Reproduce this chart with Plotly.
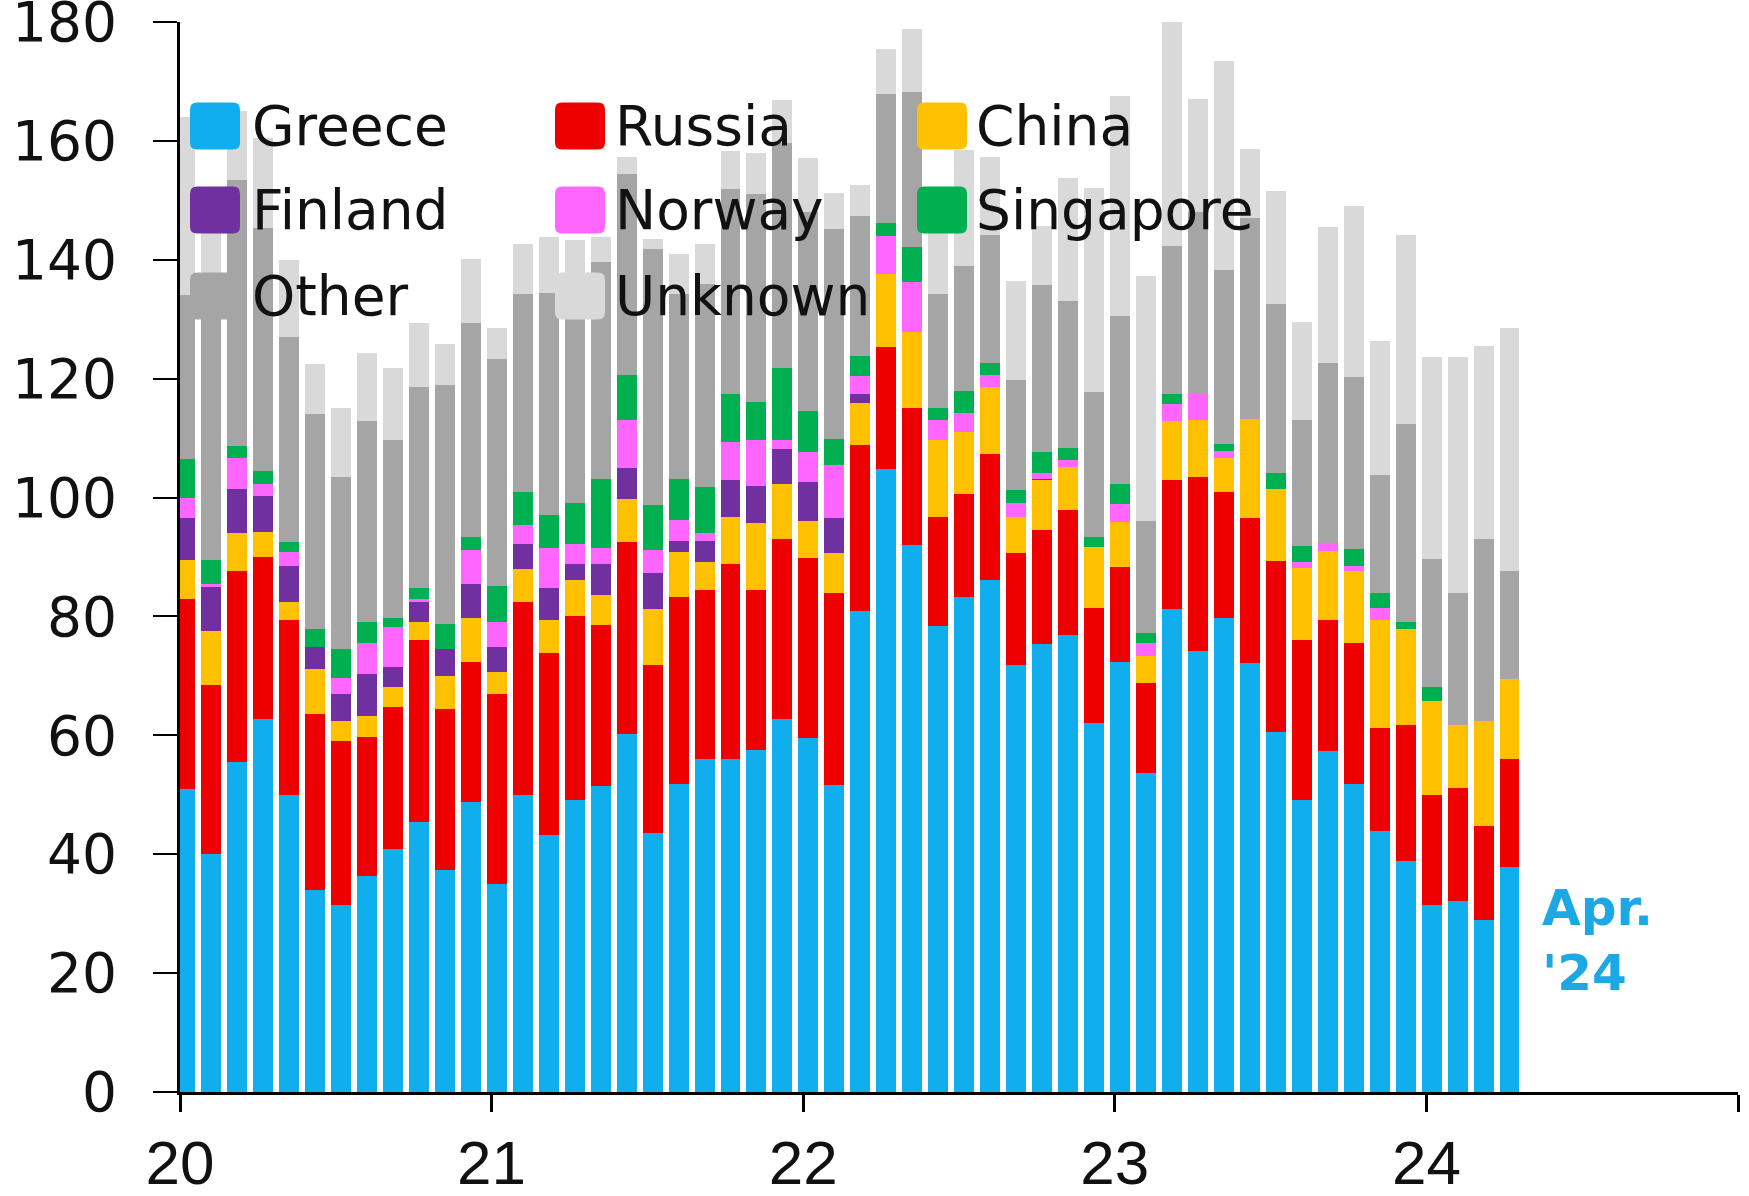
import plotly.graph_objects as go

# ---- data (monthly, Jan 2020 .. Apr 2024) ----
years = [2020] * 12 + [2021] * 12 + [2022] * 12 + [2023] * 12 + [2024] * 4
month_no = list(range(1, 13)) * 4 + [1, 2, 3, 4]

greece = [51.0, 40.0, 55.5, 62.7, 50.0, 33.9, 31.5, 36.4, 40.9, 45.5, 37.3, 48.8,
          35.0, 50.0, 43.3, 49.1, 51.5, 60.3, 43.6, 51.8, 56.0, 56.0, 57.6, 62.8,
          59.5, 51.6, 81.0, 104.8, 92.0, 78.4, 83.3, 86.2, 71.8, 75.4, 76.8, 62.1,
          72.4, 53.6, 81.2, 74.2, 79.7, 72.1, 60.6, 49.1, 57.3, 51.8, 43.9, 38.8,
          31.4, 32.2, 29.0, 37.8]
russia = [32.0, 28.5, 32.1, 27.3, 29.4, 29.7, 27.6, 23.3, 23.9, 30.5, 27.2, 23.6,
          32.0, 32.4, 30.6, 30.9, 27.0, 32.2, 28.2, 31.5, 28.5, 32.9, 26.9, 30.2,
          30.4, 32.3, 27.8, 20.6, 23.1, 18.4, 17.3, 21.1, 18.9, 19.2, 21.1, 19.4,
          16.0, 15.2, 21.7, 29.3, 21.2, 24.4, 28.8, 27.0, 22.1, 23.7, 17.3, 23.0,
          18.6, 18.9, 15.8, 18.3]
china = [6.5, 9.0, 6.4, 4.2, 3.0, 7.6, 3.3, 3.6, 3.4, 3.1, 5.5, 7.3,
         3.6, 5.5, 5.5, 6.1, 5.1, 7.2, 9.4, 7.6, 4.6, 7.9, 11.2, 9.3,
         6.1, 6.7, 7.1, 12.2, 12.8, 12.8, 10.4, 11.3, 6.1, 8.4, 7.3, 10.1,
         7.5, 4.5, 9.9, 9.5, 5.8, 16.7, 12.1, 12.1, 11.6, 12.1, 18.2, 16.1,
         15.7, 10.7, 17.6, 13.4]
finland = [7.0, 7.5, 7.5, 6.1, 6.1, 3.6, 4.6, 7.0, 3.3, 3.3, 4.5, 5.8,
           4.2, 4.3, 5.4, 2.7, 5.2, 5.2, 6.1, 1.8, 3.6, 6.1, 6.3, 5.8,
           6.6, 5.9, 1.5, 0, 0, 0, 0, 0, 0, 0.2, 0, 0,
           0, 0, 0, 0, 0, 0, 0, 0, 0, 0, 0, 0,
           0, 0, 0, 0]
norway = [3.5, 0.5, 5.2, 2.0, 2.4, 0, 2.7, 5.2, 6.7, 0.6, 0, 5.7,
          4.2, 3.2, 6.7, 3.4, 2.7, 8.1, 3.9, 3.5, 1.3, 6.5, 7.6, 1.5,
          5.0, 9.0, 3.0, 6.4, 8.4, 3.4, 3.2, 2.0, 2.3, 0.9, 1.2, 0,
          3.0, 2.2, 2.9, 4.4, 1.1, 0, 0, 0.9, 1.3, 0.9, 2.1, 0,
          0, 0, 0, 0]
singapore = [6.5, 4.0, 2.0, 2.1, 1.6, 3.1, 4.8, 3.6, 1.5, 1.8, 4.3, 2.1,
             6.2, 5.5, 5.6, 6.9, 11.7, 7.6, 7.6, 7.0, 7.7, 8.0, 6.4, 12.2,
             6.9, 4.3, 3.4, 2.2, 5.8, 2.1, 3.8, 2.0, 2.2, 3.5, 2.0, 1.7,
             3.3, 1.7, 1.7, 0, 1.2, 0, 2.6, 2.7, 0, 2.8, 2.4, 1.2,
             2.4, 0, 0, 0]
other = [27.5, 43.5, 44.8, 40.9, 34.5, 36.1, 29.0, 33.7, 29.9, 33.8, 40.1, 36.1,
         38.1, 33.3, 37.3, 32.9, 36.5, 33.9, 43.0, 31.0, 34.3, 34.5, 35.0, 37.9,
         33.5, 35.4, 23.6, 21.7, 26.2, 19.1, 20.9, 21.5, 18.5, 28.2, 24.7, 24.4,
         28.3, 18.8, 24.9, 30.6, 29.3, 33.8, 28.5, 21.2, 30.3, 29.0, 19.9, 33.2,
         21.6, 22.2, 30.7, 18.1]
unknown = [30.0, 15.0, 11.5, 15.2, 13.0, 8.4, 11.6, 11.6, 12.2, 10.8, 7.0, 10.7,
           5.2, 8.5, 9.4, 11.3, 4.1, 2.8, 1.7, 6.7, 6.6, 6.4, 7.0, 7.2,
           9.1, 6.1, 5.2, 7.5, 10.6, 10.3, 19.6, 13.2, 16.6, 9.8, 20.6, 34.3,
           37.1, 41.2, 37.7, 19.0, 35.1, 11.7, 19.0, 16.6, 22.9, 28.7, 22.6, 31.9,
           34.0, 39.7, 32.4, 41.0]

series_names = ["Greece", "Russia", "China", "Finland", "Norway", "Singapore", "Other", "Unknown"]
series_values = [greece, russia, china, finland, norway, singapore, other, unknown]
series_colors = ["#10AEEC", "#EE0000", "#FFC000", "#7030A0", "#FF66FF", "#00B050", "#A5A5A5", "#D9D9D9"]

tick_vals = [2020, 2021, 2022, 2023, 2024, 2025]
tick_text = ["20", "21", "22", "23", "24", ""]

# ---- geometry ----
W, H = 1749, 1196
ML, MR, MT, MB = 180, 11, 22, 104
PW, PH = W - ML - MR, H - MT - MB

x_pos = [y + (m - 1 + 0.2) / 12 for y, m in zip(years, month_no)]
bar_w = 0.77 / 12

fig = go.Figure()
for name, vals, col in zip(series_names, series_values, series_colors):
    fig.add_trace(go.Bar(
        x=x_pos, y=vals, name=name, width=[bar_w] * len(vals),
        marker=dict(color=col, line=dict(width=0)),
        showlegend=False,
    ))


def px_to_paper(px, py):
    return (px - ML) / PW, (H - MB - py) / PH


def rrect(w, h, r):
    x0, x1, y0, y1 = -w / 2, w / 2, -h / 2, h / 2
    return (f"M {x0 + r},{y0} L {x1 - r},{y0} Q {x1},{y0} {x1},{y0 + r} "
            f"L {x1},{y1 - r} Q {x1},{y1} {x1 - r},{y1} L {x0 + r},{y1} "
            f"Q {x0},{y1} {x0},{y1 - r} L {x0},{y0 + r} Q {x0},{y0} {x0 + r},{y0} Z")


# custom legend (3 columns)
col_marker_x = [215, 580, 942]
col_text_x = [250, 613, 974]
row_y = [126, 210, 296]
shapes = []
annotations = []
for k, (name, col) in enumerate(zip(series_names, series_colors)):
    r, c = divmod(k, 3)
    fx, fy = px_to_paper(col_marker_x[c], row_y[r])
    shapes.append(dict(type="path", xref="paper", yref="paper",
                       xsizemode="pixel", ysizemode="pixel",
                       xanchor=fx, yanchor=fy, path=rrect(50, 47, 7),
                       fillcolor=col, line=dict(width=0), layer="above"))
    tx, ty = px_to_paper(col_text_x[c], row_y[r])
    annotations.append(dict(xref="paper", yref="paper", x=tx, y=ty,
                            xanchor="left", yanchor="middle", showarrow=False,
                            text=name, font=dict(family="DejaVu Sans", size=55, color="#111111")))

annotations.append(dict(xref="x", yref="y", x=2024.365, y=25.5, xanchor="left", yanchor="middle",
                        showarrow=False, text="Apr.<br>'24", align="left",
                        font=dict(family="DejaVu Sans", size=50, color="#1BA8E4", weight="bold")))

fig.update_layout(
    width=W, height=H,
    margin=dict(l=ML, r=MR, t=MT, b=MB, pad=0, autoexpand=False),
    paper_bgcolor="white", plot_bgcolor="white",
    barmode="stack", bargap=0,
    shapes=shapes, annotations=annotations,
    showlegend=False,
    xaxis=dict(range=[2020, 2025], tickmode="array", tickvals=tick_vals, ticktext=tick_text,
               showline=True, linecolor="black", linewidth=3, automargin=False,
               ticks="outside", ticklen=17, tickwidth=3, tickcolor="black",
               showgrid=False, zeroline=False, ticklabelstandoff=-2,
               ticklabeloverflow="allow",
               tickfont=dict(family="Liberation Sans Narrow, Liberation Sans, Arial, sans-serif",
                             size=62, color="#111111")),
    yaxis=dict(range=[0, 180], tickmode="linear", tick0=0, dtick=20,
               showline=True, linecolor="black", linewidth=3, automargin=False,
               ticks="outside", ticklen=24, tickwidth=2, tickcolor="black",
               showgrid=False, zeroline=False, ticklabelstandoff=25,
               ticklabeloverflow="allow",
               tickfont=dict(family="DejaVu Sans", size=55, color="#111111")),
)

fig.write_html("out.html", config={"displayModeBar": False},
               post_script="document.body.style.margin='0px';document.body.style.overflow='hidden';")
